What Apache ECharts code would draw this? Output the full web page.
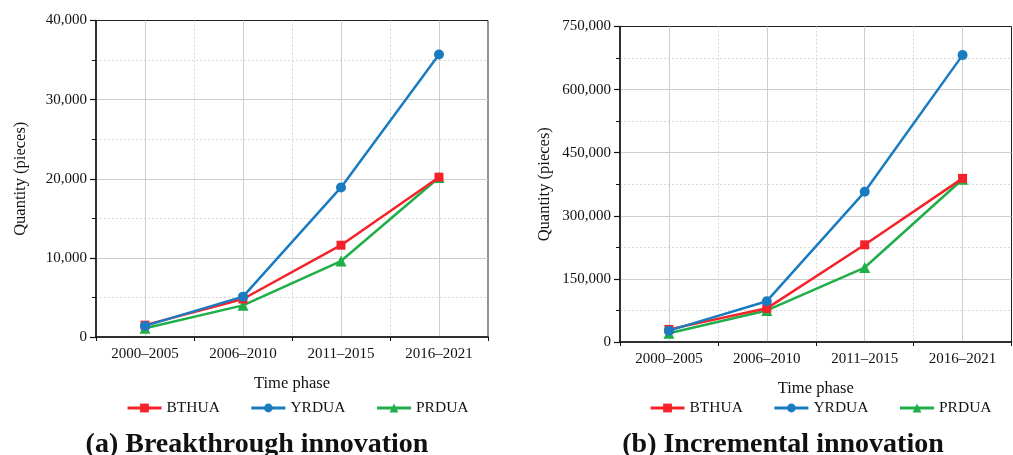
<!DOCTYPE html>
<html>
<head>
<meta charset="utf-8">
<script src="https://cdn.jsdelivr.net/npm/echarts@6/dist/echarts.min.js"></script>
<style>
  html, body { margin: 0; padding: 0; background: #fff; }
  #chart { width: 1013px; height: 455px; }
</style>
</head>
<body>
<div id="chart"></div>
<script>
// Time phases shared by both panels
const phases = ['2000\u20132005', '2006\u20132010', '2011\u20132015', '2016\u20132021'];
const seriesNames = ['BTHUA', 'YRDUA', 'PRDUA'];

// (a) Breakthrough innovation, pieces
const breakBTHUA = [1500, 4800, 11600, 20200];
const breakYRDUA = [1400, 5100, 18900, 35700];
const breakPRDUA = [1100, 4000, 9600, 20150];

// (b) Incremental innovation, pieces
const incrBTHUA = [30000, 80000, 231000, 389000];
const incrYRDUA = [27000, 97000, 357000, 682000];
const incrPRDUA = [21000, 75000, 177000, 387000];

// y-axis scales
const breakMax = 40000, breakStep = 10000;
const incrMax = 750000, incrStep = 150000;

const FONT = '"Liberation Serif", "DejaVu Serif", serif';
const TEXT = '#111';
const colors = ['#f5222a', '#1a7cc0', '#1fae48'];
const symbols = ['rect', 'circle', 'triangle'];
const symbolSizes = [9, 10, 11];

const grids = [
  { left: 96, right: 525, top: 20.5, bottom: 118 },
  { left: 620, right: 1.5, top: 26.5, bottom: 113 }
];

const NONE = 'rgba(0,0,0,0)';
const solidGrid = '#cdcdcd';
const dottedGrid = '#d8d8d8';

function xAxesFor(gi) {
  return [
    {   // category axis with labels, ticks at category centres
      type: 'category', gridIndex: gi, data: phases, boundaryGap: true,
      name: 'Time phase', nameLocation: 'middle', nameGap: 38,
      nameTextStyle: { fontFamily: FONT, fontSize: 16.5, color: TEXT },
      axisLine: { lineStyle: { color: '#111', width: 1.5 } },
      axisTick: { alignWithLabel: true, length: 7, lineStyle: { color: '#111', width: 1.2 } },
      axisLabel: { fontFamily: FONT, fontSize: 15, color: TEXT, margin: 10 },
      splitLine: { show: false }
    },
    {   // band boundaries: short ticks and dotted guides (none on the frame edges)
      type: 'value', gridIndex: gi, min: 0, max: 4, interval: 1, position: 'bottom',
      axisLine: { show: false }, axisLabel: { show: false },
      axisTick: { show: true, length: 4, lineStyle: { color: '#111', width: 1 } },
      splitLine: { show: true, lineStyle: { color: [NONE, dottedGrid, dottedGrid, dottedGrid, NONE], type: [2, 2], width: 1 } }
    },
    {   // solid guides through category centres
      type: 'value', gridIndex: gi, min: 0, max: 8, interval: 1, position: 'bottom',
      axisLine: { show: false }, axisLabel: { show: false }, axisTick: { show: false },
      splitLine: { show: true, lineStyle: { color: [NONE, solidGrid], width: 1 } }
    }
  ];
}

function yAxisFor(gi, max, step) {
  const n = Math.round(max / step);
  const lineColors = [];
  for (let i = 0; i <= n; i++) lineColors.push(i === 0 || i === n ? NONE : solidGrid);
  return {
    type: 'value', gridIndex: gi, min: 0, max: max, interval: step,
    name: 'Quantity (pieces)', nameLocation: 'middle', nameGap: 67,
    nameTextStyle: { fontFamily: FONT, fontSize: 16.5, color: TEXT },
    axisLine: { show: true, lineStyle: { color: '#111', width: 1.5 } },
    axisTick: { show: true, length: 6, lineStyle: { color: '#111', width: 1.2 } },
    minorTick: { show: true, splitNumber: 2, length: 4, lineStyle: { color: '#111', width: 1 } },
    axisLabel: {
      fontFamily: FONT, fontSize: 15, color: TEXT, margin: 9,
      formatter: v => v.toLocaleString('en-US')
    },
    splitLine: { show: true, lineStyle: { color: lineColors, width: 1 } },
    minorSplitLine: { show: true, lineStyle: { color: dottedGrid, type: [2, 2], width: 1 } }
  };
}

function lineSeries(name, data, idx, xIdx, yIdx) {
  return {
    type: 'line', name: name, data: data,
    xAxisIndex: xIdx, yAxisIndex: yIdx,
    symbol: symbols[idx], symbolSize: symbolSizes[idx],
    showAllSymbol: true,
    lineStyle: { color: colors[idx], width: 2.5 },
    itemStyle: { color: colors[idx] },
    z: idx === 2 ? 3 : 4
  };
}

const legendCommon = {
  data: seriesNames, itemWidth: 34, itemHeight: 11, itemGap: 30, top: 395,
  lineStyle: { width: 3 },
  textStyle: { fontFamily: FONT, fontSize: 15.5, color: TEXT },
  inactiveColor: '#bbb'
};

const option = {
  animation: false,
  backgroundColor: '#fff',
  grid: grids.map(g => Object.assign({ show: true, borderColor: '#222', borderWidth: 1, backgroundColor: 'transparent' }, g)),
  xAxis: xAxesFor(0).concat(xAxesFor(1)),
  yAxis: [yAxisFor(0, breakMax, breakStep), yAxisFor(1, incrMax, incrStep)],
  legend: [
    Object.assign({ left: 121 }, legendCommon),
    Object.assign({ left: 644 }, legendCommon)
  ],
  title: [
    { text: '(a) Breakthrough innovation', left: 252, top: 426, textAlign: 'center',
      textStyle: { fontFamily: FONT, fontWeight: 'bold', fontSize: 28, color: '#111' } },
    { text: '(b) Incremental innovation', left: 778, top: 426, textAlign: 'center',
      textStyle: { fontFamily: FONT, fontWeight: 'bold', fontSize: 28, color: '#111' } }
  ],
  series: [
    lineSeries('BTHUA', breakBTHUA, 0, 0, 0),
    lineSeries('YRDUA', breakYRDUA, 1, 0, 0),
    lineSeries('PRDUA', breakPRDUA, 2, 0, 0),
    lineSeries('BTHUA', incrBTHUA, 0, 3, 1),
    lineSeries('YRDUA', incrYRDUA, 1, 3, 1),
    lineSeries('PRDUA', incrPRDUA, 2, 3, 1)
  ]
};

const chart = echarts.init(document.getElementById('chart'), null, { renderer: 'canvas' });
chart.setOption(option);
</script>
</body>
</html>
